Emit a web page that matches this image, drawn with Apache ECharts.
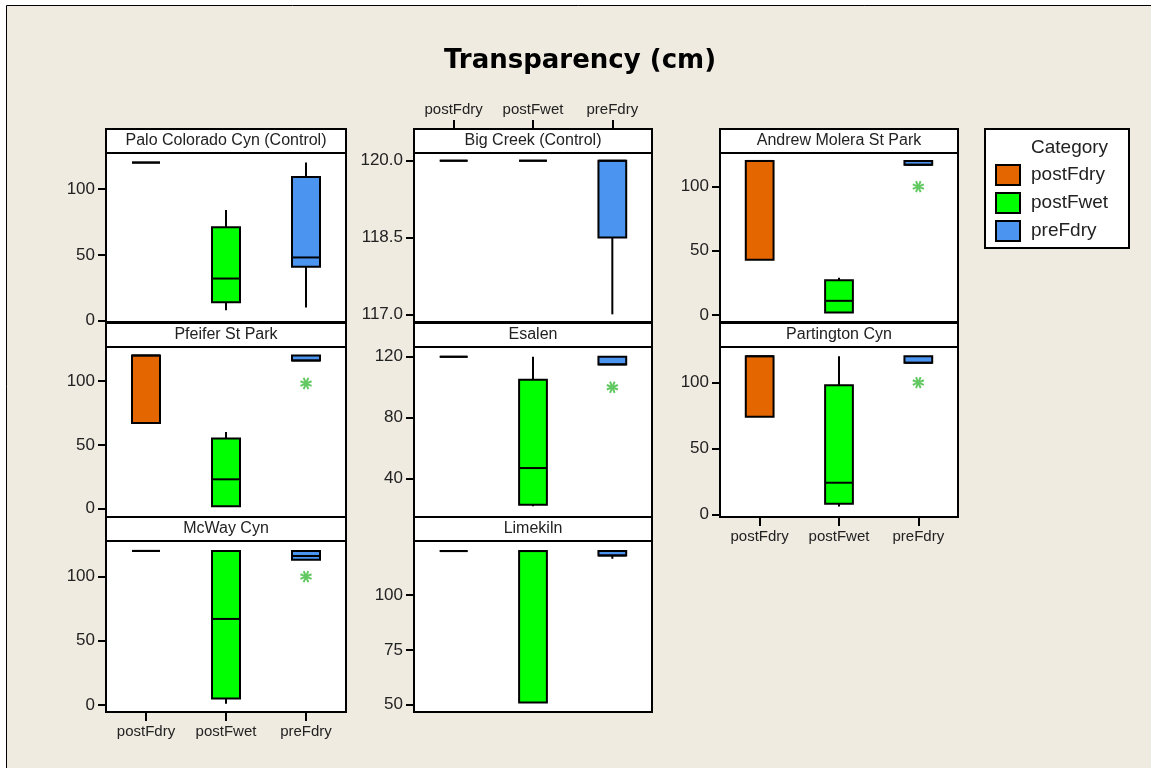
<!DOCTYPE html>
<html>
<head>
<meta charset="utf-8">
<script src="https://cdn.jsdelivr.net/npm/echarts@6/dist/echarts.min.js"></script>
<style>
  html, body { margin: 0; padding: 0; background: #fff; }
  #main { width: 1151px; height: 768px; }
</style>
</head>
<body>
<div id="main"></div>
<script>
// categories and panel names
const categories = ['postFdry', 'postFwet', 'preFdry']
const panelNames = [
  'Palo Colorado Cyn (Control)', 'Big Creek (Control)', 'Andrew Molera St Park',
  'Pfeifer St Park', 'Esalen', 'Partington Cyn',
  'McWay Cyn', 'Limekiln',
]

// box stats per category: [min, Q1, median, Q3, max]
const paloColorado = [[120, 120, 120, 120, 120], [8, 14, 32, 71, 84], [10, 41, 48, 109, 120]]
const bigCreek = [[120, 120, 120, 120, 120], [120, 120, 120, 120, 120], [117, 118.5, 120, 120, 120]]
const andrewMolera = [[43, 43, 120, 120, 120], [2, 2, 11, 27, 29], [117, 117, 117, 120, 120]]
const pfeifer = [[67, 67, 120, 120, 120], [2, 2, 23, 55, 60], [116, 116, 116, 120, 120]]
const esalen = [[120, 120, 120, 120, 120], [22, 23, 47, 105, 120], [115, 115, 115, 120, 120]]
const partington = [[74, 74, 120, 120, 120], [6, 8, 24, 98, 120], [115, 115, 115, 120, 120]]
const mcWay = [[120, 120, 120, 120, 120], [1, 5, 67, 120, 120], [113, 113, 116, 120, 120]]
const limekiln = [[120, 120, 120, 120, 120], [51, 51, 120, 120, 120], [116.5, 118, 118, 120, 120]]

// outliers: [category index, value]
const andrewOutliers = [[2, 100]]
const pfeiferOutliers = [[2, 98]]
const esalenOutliers = [[2, 100]]
const partingtonOutliers = [[2, 100]]
const mcWayOutliers = [[2, 100]]

// y tick labels
const ticks0to100 = [0, 50, 100]
const bigCreekTicks = [117, 118.5, 120]
const esalenTicks = [40, 80, 120]
const limekilnTicks = [50, 75, 100]

const colors = ['#E46600', '#00FF00', '#4B95F0']
const outlierColor = '#62C862'
const font = 'Liberation Sans'

const cols = [{ left: 106, width: 240 }, { left: 414, width: 238 }, { left: 720, width: 238 }]
const rows = [{ top: 153, height: 169 }, { top: 347, height: 170 }, { top: 541, height: 171 }]
const stripH = 24

const panels = [
  { boxes: paloColorado, out: [], ticks: ticks0to100, min: -1, max: 127.3, col: 0, row: 0 },
  { boxes: bigCreek, out: [], ticks: bigCreekTicks, min: 116.85, max: 120.15, col: 1, row: 0, xPos: 'top', dec: 1 },
  { boxes: andrewMolera, out: andrewOutliers, ticks: ticks0to100, min: -5.5, max: 126.2, col: 2, row: 0 },
  { boxes: pfeifer, out: pfeiferOutliers, ticks: ticks0to100, min: -6.5, max: 126.6, col: 0, row: 1 },
  { boxes: esalen, out: esalenOutliers, ticks: esalenTicks, min: 14.9, max: 126.4, col: 1, row: 1 },
  { boxes: partington, out: partingtonOutliers, ticks: ticks0to100, min: -2, max: 127, col: 2, row: 1, xPos: 'bottom' },
  { boxes: mcWay, out: mcWayOutliers, ticks: ticks0to100, min: -5.5, max: 127.7, col: 0, row: 2, xPos: 'bottom' },
  { boxes: limekiln, out: [], ticks: limekilnTicks, min: 46.7, max: 124.6, col: 1, row: 2 },
]

function renderBox(params, api) {
  const x = api.value(0)
  const ci = api.value(6)
  const half = api.size([1, 0])[0] * 0.175
  const pMin = api.coord([x, api.value(1)])
  const pQ1 = api.coord([x, api.value(2)])
  const pMed = api.coord([x, api.value(3)])
  const pQ3 = api.coord([x, api.value(4)])
  const pMax = api.coord([x, api.value(5)])
  const cx = pQ1[0]
  const line = { stroke: '#000', lineWidth: 2 }
  const children = []
  if (pMax[1] < pQ3[1]) {
    children.push({ type: 'line', shape: { x1: cx, y1: pMax[1], x2: cx, y2: pQ3[1] }, style: line })
  }
  if (pMin[1] > pQ1[1]) {
    children.push({ type: 'line', shape: { x1: cx, y1: pQ1[1], x2: cx, y2: pMin[1] }, style: line })
  }
  children.push({
    type: 'rect',
    shape: { x: cx - half, y: pQ3[1], width: half * 2, height: pQ1[1] - pQ3[1] },
    style: { fill: colors[ci], stroke: '#000', lineWidth: 2 },
  })
  children.push({ type: 'line', shape: { x1: cx - half, y1: pMed[1], x2: cx + half, y2: pMed[1] }, style: line })
  return { type: 'group', children }
}

function renderStar(params, api) {
  const p = api.coord([api.value(0), api.value(1)])
  const r = 6
  const st = { stroke: outlierColor, lineWidth: 2 }
  const children = []
  for (let k = 0; k < 4; k++) {
    const a = (Math.PI / 4) * k + Math.PI / 8
    children.push({
      type: 'line',
      shape: { x1: p[0] - r * Math.cos(a), y1: p[1] - r * Math.sin(a), x2: p[0] + r * Math.cos(a), y2: p[1] + r * Math.sin(a) },
      style: st,
    })
  }
  return { type: 'group', children }
}

const grid = [], xAxis = [], yAxis = [], series = [], graphic = []

// page frame
graphic.push({ type: 'rect', shape: { x: 0, y: 0, width: 1151, height: 5 }, style: { fill: '#fff' }, z: 100 })
graphic.push({ type: 'rect', shape: { x: 0, y: 0, width: 6, height: 768 }, style: { fill: '#fff' }, z: 100 })
graphic.push({ type: 'line', shape: { x1: 6.5, y1: 5.5, x2: 1151, y2: 5.5 }, style: { stroke: '#000', lineWidth: 1 }, z: 100 })
graphic.push({ type: 'line', shape: { x1: 6.5, y1: 5.5, x2: 6.5, y2: 768 }, style: { stroke: '#000', lineWidth: 1 }, z: 100 })

graphic.push({
  type: 'text', x: 580, y: 61,
  style: { text: 'Transparency (cm)', font: 'bold 26px "DejaVu Sans"', fill: '#000', textAlign: 'center', textVerticalAlign: 'middle' },
})

panels.forEach((p, i) => {
  const c = cols[p.col], r = rows[p.row]
  grid.push({
    left: c.left, top: r.top, width: c.width, height: r.height,
    show: true, backgroundColor: '#fff', borderColor: '#000', borderWidth: 2,
  })
  xAxis.push({
    gridIndex: i, type: 'category', data: categories, position: p.xPos || 'bottom',
    offset: p.xPos === 'top' ? stripH : 0,
    axisLine: { show: false, onZero: false },
    axisTick: { show: !!p.xPos, alignWithLabel: true, length: 9, lineStyle: { color: '#000', width: 2 } },
    axisLabel: { show: !!p.xPos, fontSize: 15, color: '#222', margin: 12, fontFamily: font },
  })
  yAxis.push({
    gridIndex: i, type: 'value', min: p.min, max: p.max,
    axisLine: { show: false, onZero: false }, splitLine: { show: false },
    axisTick: { show: true, customValues: p.ticks, length: 8, lineStyle: { color: '#000', width: 2 } },
    axisLabel: {
      customValues: p.ticks, fontSize: 17, color: '#222', margin: 11, fontFamily: font,
      formatter: v => (p.dec ? v.toFixed(p.dec) : String(v)),
    },
  })
  series.push({
    type: 'custom', xAxisIndex: i, yAxisIndex: i, renderItem: renderBox,
    encode: { x: 0, y: [1, 2, 3, 4, 5] },
    data: p.boxes.map((b, k) => [k, ...b, k]),
    z: 5,
  })
  if (p.out.length) {
    series.push({
      type: 'custom', xAxisIndex: i, yAxisIndex: i, renderItem: renderStar,
      encode: { x: 0, y: 1 }, data: p.out, z: 6,
    })
  }
  // panel strip
  graphic.push({
    type: 'rect', shape: { x: c.left, y: r.top - stripH, width: c.width, height: stripH },
    style: { fill: '#fff', stroke: '#000', lineWidth: 2 },
  })
  graphic.push({
    type: 'text', x: c.left + c.width / 2, y: r.top - stripH / 2,
    style: { text: panelNames[i], font: '16px "' + font + '"', fill: '#222', textAlign: 'center', textVerticalAlign: 'middle' },
  })
})

// legend box
graphic.push({ type: 'rect', shape: { x: 985, y: 129, width: 144, height: 119 }, style: { fill: '#fff', stroke: '#000', lineWidth: 2 } })
graphic.push({
  type: 'text', x: 1031, y: 148,
  style: { text: 'Category', font: '19px "' + font + '"', fill: '#222', textVerticalAlign: 'middle' },
})
categories.forEach((name, k) => {
  const yc = 175 + k * 28
  graphic.push({ type: 'rect', shape: { x: 996, y: yc - 10, width: 24, height: 20 }, style: { fill: colors[k], stroke: '#000', lineWidth: 2 } })
  graphic.push({
    type: 'text', x: 1031, y: yc,
    style: { text: name, font: '19px "' + font + '"', fill: '#222', textVerticalAlign: 'middle' },
  })
})

let myChart = echarts.init(document.getElementById('main'))
myChart.setOption({
  backgroundColor: '#EFEBE1',
  animation: false,
  grid, xAxis, yAxis, series, graphic,
})
</script>
</body>
</html>
